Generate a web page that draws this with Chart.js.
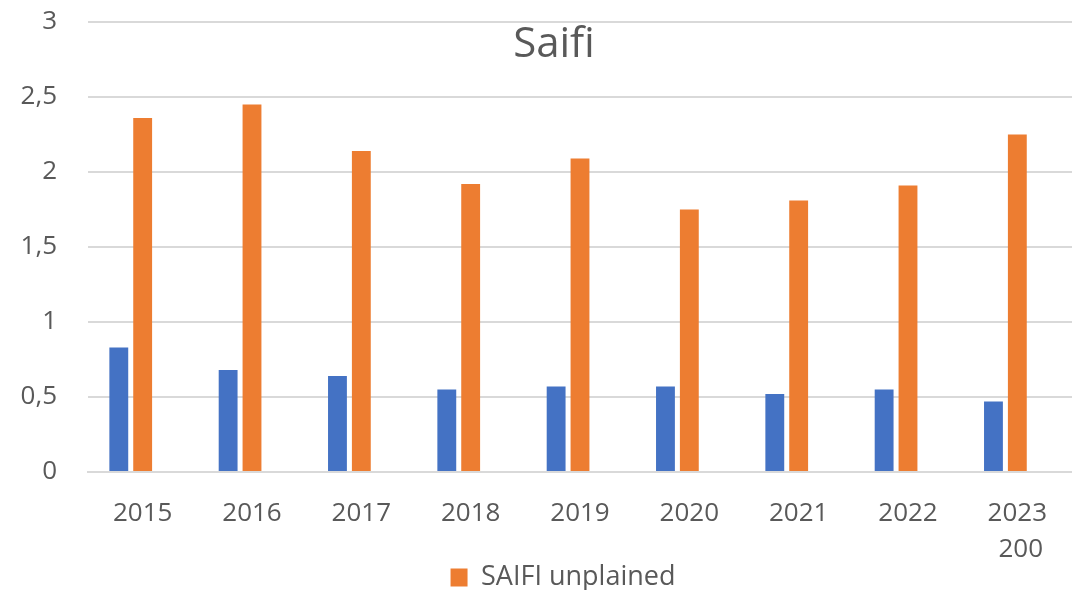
<!DOCTYPE html>
<html>
<head>
<meta charset="utf-8">
<script src="https://cdn.jsdelivr.net/npm/chart.js@4"></script>
<style>
  html, body { margin: 0; padding: 0; background: #fff; }
  #wrap { width: 1072px; height: 590px; }
</style>
</head>
<body>
<div id="wrap"><canvas id="saifiChart" width="1072" height="590"></canvas></div>
<script>
// Years on the x axis (last label carries a second line, as in the source)
const years = ['2015', '2016', '2017', '2018', '2019', '2020', '2021', '2022', ['2023', ' 200']];
// Blue series (no legend entry in the source)
const saifiExplained = [0.83, 0.68, 0.64, 0.55, 0.57, 0.57, 0.52, 0.55, 0.47];
// Orange series
const saifiUnplained = [2.36, 2.45, 2.14, 1.92, 2.09, 1.75, 1.81, 1.91, 2.25];
// Third series is empty in the source but still takes its slot in each group
const saifiEmpty = [null, null, null, null, null, null, null, null, null];
const yTicks = [0, 0.5, 1, 1.5, 2, 2.5, 3];

const textColor = '#595959';
const gridColor = '#D9D9D9';
const fontFamily = '"Open Sans", "Liberation Sans", sans-serif';

// Title sits inside the plot area, so draw it after the chart
const titleInPlot = {
    id: 'titleInPlot',
    afterDraw(chart) {
        const ctx = chart.ctx;
        const area = chart.chartArea;
        ctx.save();
        ctx.font = '42px ' + fontFamily;
        ctx.fillStyle = textColor;
        ctx.textAlign = 'center';
        ctx.textBaseline = 'middle';
        ctx.fillText('Saifi', (area.left + area.right) / 2 - 26, area.top + 23);
        ctx.restore();
    }
};

// Excel centres the legend on the whole chart box, a little right of ours
const nudgeLegend = {
    id: 'nudgeLegend',
    afterLayout(chart) {
        chart.legend.left += 24;
        chart.legend.right += 24;
    }
};

const barOpts = { categoryPercentage: 0.655, barPercentage: 0.79 };

const ctx = document.getElementById('saifiChart').getContext('2d');
new Chart(ctx, {
    type: 'bar',
    data: {
        labels: years,
        datasets: [
            { label: 'SAIFI explained', data: saifiExplained, backgroundColor: '#4472C4', ...barOpts },
            { label: 'SAIFI unplained', data: saifiUnplained, backgroundColor: '#ED7D31', ...barOpts },
            { label: '200', data: saifiEmpty, backgroundColor: '#A5A5A5', ...barOpts }
        ]
    },
    options: {
        responsive: false,
        animation: false,
        layout: { padding: { top: 22, right: -6, bottom: -11, left: 0 } },
        plugins: {
            title: { display: false },
            tooltip: { enabled: false },
            legend: {
                position: 'bottom',
                labels: {
                    filter: item => item.datasetIndex === 1,
                    boxWidth: 17,
                    boxHeight: 18,
                    padding: 0,
                    color: textColor,
                    font: { family: fontFamily, size: 27 }
                }
            }
        },
        scales: {
            x: {
                afterFit: scale => { scale.height = 92; },
                grid: { display: false },
                border: { display: true, color: gridColor, width: 2 },
                ticks: {
                    color: textColor,
                    padding: 16,
                    maxRotation: 0,
                    autoSkip: false,
                    font: { family: fontFamily, size: 26, lineHeight: 1.38 }
                }
            },
            y: {
                min: 0,
                max: 3,
                afterFit: scale => {
                    scale.width = 88;
                    scale.paddingTop = 0;
                    scale.paddingBottom = 0;
                },
                afterBuildTicks: scale => { scale.ticks = yTicks.map(v => ({ value: v })); },
                grid: { color: gridColor, lineWidth: 2, drawTicks: false },
                border: { display: false },
                ticks: {
                    color: textColor,
                    padding: 31,
                    font: { family: fontFamily, size: 26 },
                    callback: v => String(v).replace('.', ',')
                }
            }
        }
    },
    plugins: [titleInPlot, nudgeLegend]
});
</script>
</body>
</html>
